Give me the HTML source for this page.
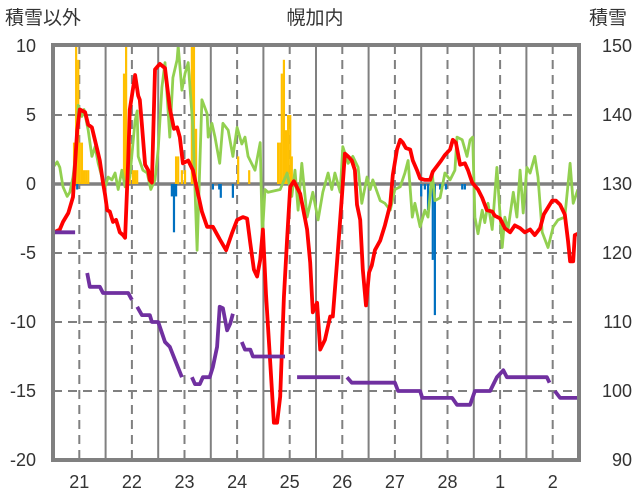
<!DOCTYPE html>
<html><head><meta charset="utf-8"><style>
body{margin:0;background:#fff;}
svg{display:block;font-family:"Liberation Sans","Noto Sans CJK JP",sans-serif;}
</style></head><body>
<svg id="chart" width="636" height="501" viewBox="0 0 636 501">
<defs><clipPath id="plotclip"><rect x="53" y="45" width="526" height="415"/></clipPath></defs>
<g id="grid"></g>
<g id="bars" clip-path="url(#plotclip)"></g>
<g id="lines" clip-path="url(#plotclip)"></g>
<g id="axes"></g>
<text x="315" y="24" text-anchor="middle" font-size="19" fill="#333">幌加内</text>
<text x="5" y="24" font-size="19" fill="#333">積雪以外</text>
<text x="589" y="24" font-size="19" fill="#333">積雪</text>
</svg>
<script>
const leftTicks=[10,5,0,-5,-10,-15,-20];
const rightTicks=[150,140,130,120,110,100,90];
const dayLabels=["21","22","23","24","25","26","27","28","1","2"];
const redT=[0,0.13,0.19,0.29,0.38,0.46,0.51,0.61,0.67,0.74,0.84,0.89,0.95,0.99,1.03,1.08,1.14,1.2,1.24,1.27,1.33,1.37,1.43,1.46,1.56,1.62,1.65,1.69,1.75,1.81,1.84,1.88,1.94,2.03,2.13,2.22,2.3,2.36,2.41,2.47,2.57,2.66,2.74,2.83,2.93,3.04,3.17,3.29,3.4,3.5,3.61,3.69,3.75,3.82,3.88,3.94,3.99,4.05,4.13,4.2,4.26,4.32,4.39,4.45,4.51,4.58,4.7,4.83,4.89,4.94,5.02,5.08,5.17,5.27,5.32,5.4,5.49,5.55,5.61,5.68,5.74,5.78,5.84,5.89,5.95,6.01,6.06,6.12,6.22,6.31,6.41,6.46,6.54,6.6,6.65,6.71,6.79,6.84,6.92,6.98,7.07,7.17,7.22,7.3,7.38,7.45,7.55,7.6,7.66,7.74,7.83,7.89,7.97,8.08,8.16,8.25,8.35,8.4,8.5,8.59,8.69,8.78,8.88,8.97,9.07,9.16,9.26,9.33,9.41,9.49,9.56,9.64,9.73,9.79,9.83,9.89,9.92,9.98];
const redV=[-3.55,-3.3,-2.75,-2.1,-0.94,3.9,5.4,5.2,4.3,4.1,2.5,1.7,0.1,-0.8,-1.9,-2,-2.75,-2.6,-3.1,-3.5,-3.7,-3.9,1.7,5.4,7.9,6.4,6.1,4.3,1.4,1,0.3,0.1,8.3,8.7,8.4,5.5,4,4.1,3.4,1.5,1.7,1,-0.4,-2,-3.1,-3.1,-4,-4.8,-3.6,-2.6,-2.4,-2.5,-4.3,-6.2,-6.7,-5.5,-3.3,-8,-12.9,-17.3,-17.3,-15.4,-8.2,-4,-0.2,0.2,-0.7,-3.3,-5.7,-9.3,-8.6,-12,-11.3,-9.6,-9.6,-5.7,-1,2.2,2,1.7,1,-1.5,-2.6,-6.2,-8.8,-6.4,-5.9,-4.8,-4.1,-3,-1.5,0.65,2.5,3.2,3,2.6,2.5,1.7,1,0.4,0.3,0.3,0.9,1.3,1.7,2.1,2.5,3.2,3,1.4,1.5,1,0.1,-0.4,-1,-1.9,-2,-2.3,-2.5,-3.2,-3.5,-3,-3.2,-3.5,-3.3,-3.7,-3.2,-2.2,-1.7,-1.2,-1.2,-1.5,-2.2,-4.1,-5.6,-5.6,-3.7,-3.6];
const greenT=[0,0.08,0.13,0.19,0.27,0.32,0.38,0.46,0.48,0.55,0.59,0.67,0.74,0.8,0.86,0.93,0.99,1.05,1.12,1.18,1.24,1.31,1.37,1.46,1.56,1.6,1.62,1.71,1.79,1.86,1.94,2.0,2.07,2.13,2.22,2.28,2.36,2.38,2.45,2.51,2.57,2.66,2.74,2.83,2.93,2.95,3.02,3.08,3.17,3.23,3.33,3.42,3.5,3.59,3.65,3.71,3.84,3.94,3.98,4.03,4.09,4.32,4.45,4.54,4.6,4.66,4.73,4.83,4.94,5.04,5.13,5.23,5.3,5.36,5.46,5.51,5.61,5.7,5.8,5.87,5.97,6.03,6.08,6.22,6.31,6.41,6.5,6.6,6.69,6.75,6.83,6.88,6.98,7.07,7.13,7.21,7.26,7.36,7.45,7.55,7.64,7.68,7.78,7.87,7.93,7.98,8.02,8.08,8.16,8.21,8.27,8.35,8.44,8.54,8.59,8.65,8.75,8.82,8.88,8.94,9.01,9.07,9.16,9.22,9.3,9.41,9.51,9.6,9.73,9.83,9.89,9.98];
const greenV=[1.2,1.6,1.2,-0.2,-0.9,-0.6,0.5,3.2,5.7,4.9,5.4,3.9,2,2.7,1.5,0.5,-0.2,0.5,0.3,0.8,-0.4,1,-0.2,0.5,4.6,5.3,2,1,0.8,-0.4,0.3,2.5,7,8.8,3.4,7.7,9,10,6.8,8,8.8,4.1,-4.8,6.1,5.1,3.4,4.4,3.4,1.5,4.4,3.9,2,4.1,2.9,3.4,2,1,3,-3.8,-0.4,-0.6,-0.4,0.8,-0.9,1,-1.9,1.5,-2.4,-0.6,-2.6,-0.6,0.8,-0.4,0.8,-0.6,2.7,1.5,2,1.2,-1.4,0.5,-0.4,0.3,-1.2,-1.4,-1.9,-0.4,-0.2,0.8,1.7,-2.4,-1.4,-3.1,-1.9,-2.4,0.8,-1.2,-1,0.8,0.3,1,3.4,3.2,2,3.2,3.4,-2.4,-3.6,-1.9,-2.8,-1.4,-3.3,1.2,-4.6,-2.4,-3.3,-0.6,-2.4,1,-2.1,1.2,0.8,2,0.5,-3.5,-4.6,-3.1,-2.6,-2.4,1.5,-1.4,-0.4];
const snowT=[0,0.42,0.6,0.65,0.7,0.89,0.95,1.43,1.5,1.52,1.6,1.69,1.84,1.88,2.0,2.13,2.22,2.32,2.45,2.55,2.64,2.7,2.79,2.85,2.98,3.04,3.12,3.17,3.23,3.31,3.37,3.42,3.5,3.59,3.65,3.75,3.8,4.41,4.5,4.64,5.46,5.52,5.59,5.68,6.5,6.56,6.98,7.02,7.59,7.68,7.93,8.02,8.31,8.44,8.56,8.63,9.39,9.44,9.5,9.54,9.64,9.98];
const snowV=[123,123,null,117.1,115.1,115.1,114.2,114.2,113.2,null,112.2,111,111,110,110,107.1,106.4,104.5,102,null,102,101,101,102,102,103.5,106.4,112.2,112,108.8,109.8,111.2,null,107.1,106,106,105,105,null,102,102,null,102,101.2,101.2,100,100,99,99,98,98,100,100,102,103,102,102,101.2,null,100,99,99];
const snowfallT=[0.4,0.44,0.48,0.51,0.55,0.59,0.63,0.67,1.35,1.39,1.43,1.46,1.52,1.56,1.6,2.34,2.38,2.45,2.51,2.64,2.68,2.72,3.52,3.73,4.28,4.32,4.35,4.39,4.43,4.47,4.51,4.54];
const snowfallV=[3,10,9,3,3,1,1,1,8,10,3,3,1,1,1,2,2,1,1,10,10,4,2,1,3,3,8,9,3.9,5,5,2];
const meltT=[0.46,2.26,2.3,2.34,3.04,3.16,3.19,3.42,7.0,7.07,7.13,7.22,7.26,7.36,7.47,7.78,7.83];
const meltV=[-0.4,-0.9,-3.5,-0.9,-0.4,-0.4,-1,-1,-0.9,-0.4,-1.9,-5.5,-9.5,-0.4,-0.4,-0.4,-0.4];

const NS="http://www.w3.org/2000/svg";
const X=t=>53+t*52.6, Y=v=>184-v*13.8, YR=s=>46+(150-s)*6.9;
function mk(tag,attrs,parent){const e=document.createElementNS(NS,tag);for(const k in attrs)e.setAttribute(k,attrs[k]);parent.appendChild(e);return e;}
const grid=document.getElementById('grid'),bars=document.getElementById('bars'),lines=document.getElementById('lines'),axes=document.getElementById('axes');
// horizontal grid
leftTicks.forEach(v=>{
  if(v===10||v===-20)return;
  const g=mk('line',{x1:53,x2:579,y1:Y(v),y2:Y(v),stroke:'#808080','stroke-width':v===0?3.5:2,'stroke-dasharray':v===0?'none':'9,6'},grid);
  
  
});
for(let d=1;d<10;d++){
  const g=mk('line',{x1:X(d),x2:X(d),y1:45,y2:460,stroke:'#808080','stroke-width':2},grid);
  
  
}
dayLabels.forEach((lab,i)=>{
  const g=mk('line',{x1:X(i+0.5),x2:X(i+0.5),y1:45,y2:460,stroke:'#808080','stroke-width':2,'stroke-dasharray':'9,6'},grid);
  
  
  const tx=mk('text',{x:X(i+0.5),y:488,'text-anchor':'middle','font-size':18,fill:'#333'},axes);
  tx.textContent=lab;
  
  
});
leftTicks.forEach(v=>{
  const tx=mk('text',{x:36,y:Y(v)+6,'text-anchor':'end','font-size':18,fill:'#333'},axes);
  tx.textContent=String(v);
  
  
});
rightTicks.forEach(s=>{
  const tx=mk('text',{x:632,y:YR(s)+6,'text-anchor':'end','font-size':18,fill:'#333'},axes);
  tx.textContent=String(s);
  
  
});
const frame=mk('rect',{x:53,y:45,width:526,height:415,fill:'none',stroke:'#808080','stroke-width':4},axes);


// bars
snowfallT.forEach((t,i)=>{
  const v=snowfallV[i];
  const b=mk('rect',{x:X(t)-1.1,y:Y(v),width:2.2,height:Y(0)-Y(v),fill:'#ffc000'},bars);
  
  
});
meltT.forEach((t,i)=>{
  const v=meltV[i];
  const b=mk('rect',{x:X(t)-1.1,y:Y(0),width:2.2,height:Y(v)-Y(0),fill:'#0070c0'},bars);
  
  
});
function pathFrom(T,V,yf){let d='',pen=false;T.forEach((t,i)=>{const v=V[i];if(v===null||v===undefined){pen=false;return;}d+=(pen?'L':'M')+X(t).toFixed(1)+','+yf(v).toFixed(1);pen=true;});return d;}
const gl=mk('path',{d:pathFrom(greenT,greenV,Y),fill:'none',stroke:'#92d050','stroke-width':2.8,'stroke-linejoin':'round'},lines);


const rl=mk('path',{d:pathFrom(redT,redV,Y),fill:'none',stroke:'#ff0000','stroke-width':3.8,'stroke-linejoin':'round'},lines);


const pl=mk('path',{d:pathFrom(snowT,snowV,YR),fill:'none',stroke:'#7030a0','stroke-width':3.8,'stroke-linejoin':'round'},lines);


</script>
</body></html>
